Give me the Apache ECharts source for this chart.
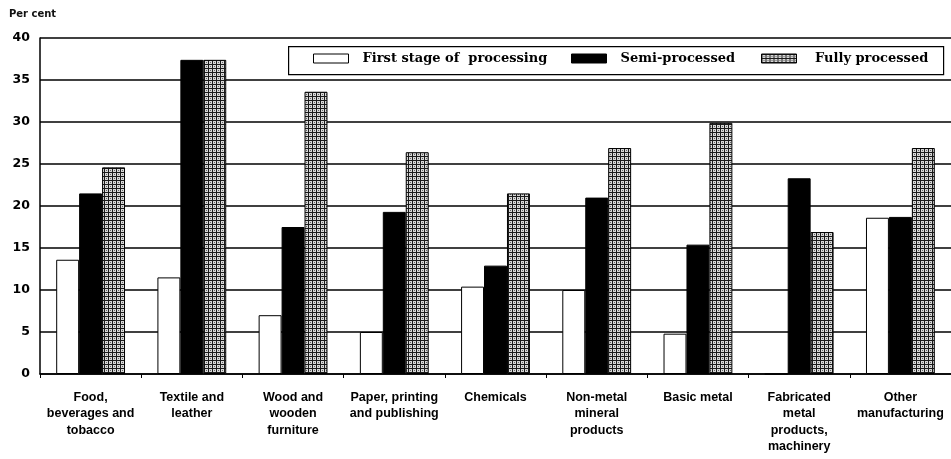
<!DOCTYPE html>
<html>
<head>
<meta charset="utf-8">
<script src="https://cdn.jsdelivr.net/npm/echarts@6/dist/echarts.min.js"></script>
<style>
html,body{margin:0;padding:0;background:#fff;}
#chart{width:951px;height:459px;}
</style>
</head>
<body>
<div id="chart"></div>
<script>
var categories = [
  'Food,\nbeverages and\ntobacco',
  'Textile and\nleather',
  'Wood and\nwooden\nfurniture',
  'Paper, printing\nand publishing',
  'Chemicals',
  'Non-metal\nmineral\nproducts',
  'Basic metal',
  'Fabricated\nmetal\nproducts,\nmachinery',
  'Other\nmanufacturing'
];
var seriesNames = ['First stage of  processing', 'Semi-processed', 'Fully processed'];
var firstStage = [13.6, 11.5, 7.0, 5.0, 10.4, 10.0, 4.8, 0, 18.6];
var semiProcessed = [21.5, 37.4, 17.5, 19.3, 12.9, 21.0, 15.4, 23.3, 18.7];
var fullyProcessed = [24.6, 37.4, 33.6, 26.4, 21.5, 26.9, 29.9, 16.9, 26.9];
var yTicks = [0, 5, 10, 15, 20, 25, 30, 35, 40];

// hatch pattern for "fully processed"
var pc = document.createElement('canvas');
pc.width = 4; pc.height = 4;
var g = pc.getContext('2d');
g.fillStyle = '#d8d8d8'; g.fillRect(0, 0, 4, 4);
g.fillStyle = '#1a1a1a'; g.fillRect(0, 0, 4, 1); g.fillRect(0, 0, 1, 4);
g.fillStyle = '#666'; g.fillRect(2, 2, 1, 1);

var legendText = {fontFamily: 'DejaVu Serif', fontWeight: 'bold', fontSize: 13, color: '#000'};
function oneLegend(name, left, pad) {
  return {
    left: left, top: 52, data: [name], padding: 0, z: 8,
    icon: 'rect', itemWidth: 35, itemHeight: 9,
    itemStyle: {borderColor: '#000', borderWidth: 1},
    formatter: function (n) { return pad + n; },
    textStyle: legendText,
    selectedMode: false
  };
}

var chart = echarts.init(document.getElementById('chart'), null, {renderer: 'canvas'});
var barBase = {type: 'bar', barGap: '0%', barCategoryGap: '32%', animation: false};
chart.setOption({
  animation: false,
  backgroundColor: '#fff',
  title: {
    text: 'Per cent', left: 4, top: 4,
    textStyle: {fontFamily: 'DejaVu Sans', fontWeight: 'bold', fontSize: 10, color: '#111'}
  },
  grid: {left: 40, right: 0, top: 38, bottom: 85, containLabel: false},
  graphic: [{
    type: 'rect', left: 288, top: 46, z: 3,
    shape: {width: 655, height: 28},
    style: {fill: '#fff', stroke: '#000', lineWidth: 1.2}
  }],
  legend: [
    oneLegend(seriesNames[0], 313, '  '),
    oneLegend(seriesNames[1], 571, '  '),
    oneLegend(seriesNames[2], 761, '   ')
  ],
  xAxis: {
    type: 'category',
    data: categories,
    axisLine: {lineStyle: {color: '#000', width: 1.5}},
    axisTick: {show: true, length: 4, lineStyle: {color: '#000'}},
    axisLabel: {
      interval: 0, margin: 15, color: '#000',
      fontFamily: 'Liberation Sans', fontWeight: 'bold', fontSize: 12.5, lineHeight: 16.5
    },
    splitLine: {show: false}
  },
  yAxis: {
    type: 'value', min: yTicks[0], max: yTicks[yTicks.length - 1], interval: 5,
    axisLine: {show: true, lineStyle: {color: '#000', width: 1.5}},
    axisTick: {show: false},
    axisLabel: {margin: 10, color: '#000', fontFamily: 'DejaVu Sans', fontWeight: 'bold', fontSize: 12.5},
    splitLine: {show: true, lineStyle: {color: '#000', width: 1.5}}
  },
  series: [
    Object.assign({}, barBase, {
      name: seriesNames[0], data: firstStage,
      itemStyle: {color: '#fff', borderColor: '#000', borderWidth: 1}
    }),
    Object.assign({}, barBase, {
      name: seriesNames[1], data: semiProcessed,
      itemStyle: {color: '#000', borderColor: '#000', borderWidth: 1}
    }),
    Object.assign({}, barBase, {
      name: seriesNames[2], data: fullyProcessed,
      itemStyle: {color: {image: pc, repeat: 'repeat'}, borderColor: '#000', borderWidth: 1}
    })
  ]
});
</script>
</body>
</html>
